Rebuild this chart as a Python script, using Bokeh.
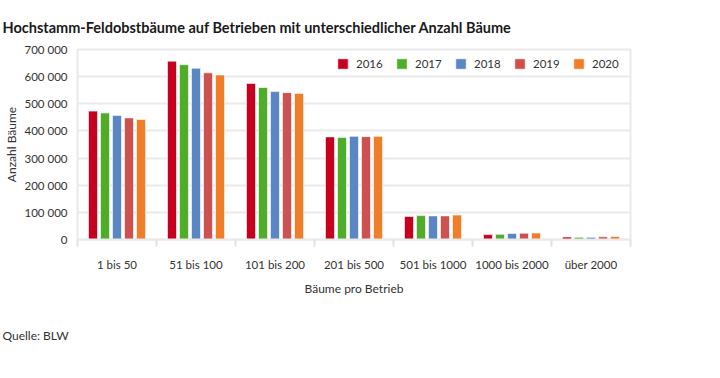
from bokeh.plotting import figure
from bokeh.models import (Range1d, FixedTicker, ColumnDataSource,
                          Legend, LegendItem, Title)
from bokeh.transform import dodge
from bokeh.embed import file_html
from bokeh.resources import INLINE

title_text = "Hochstamm-Feldobstbäume auf Betrieben mit unterschiedlicher Anzahl Bäume"
source_text = "Quelle: BLW"
x_title = "Bäume pro Betrieb"
y_title = "Anzahl Bäume"

categories = ["1 bis 50", "51 bis 100", "101 bis 200", "201 bis 500",
              "501 bis 1000", "1000 bis 2000", "über 2000"]
years = ["2016", "2017", "2018", "2019", "2020"]
v2016 = [473000, 657000, 575000, 378000, 85000, 18000, 9000]
v2017 = [466000, 644000, 560000, 376000, 88000, 19000, 8000]
v2018 = [457000, 631000, 545000, 380000, 87000, 22000, 8000]
v2019 = [448000, 614000, 541000, 379000, 87000, 23000, 10000]
v2020 = [442000, 606000, 538000, 380000, 90000, 24000, 11000]
colors = ["#c6001f", "#4fad29", "#5b86c5", "#cd5151", "#f07d27"]
y_ticks = [0, 100000, 200000, 300000, 400000, 500000, 600000, 700000]
y_tick_labels = ["0", "100 000", "200 000", "300 000", "400 000", "500 000", "600 000", "700 000"]

FONT = "Lato"
TXT = "#333333"
GRID = "#eaeaea"
W, H = 704, 370
ML, MR, MT, MB = 77, 74, 49, 126

n = len(categories)
centers = [i + 0.5 for i in range(n)]   # category slot centres on the axis scale
data = dict(cat=categories, pos=centers)
series = [v2016, v2017, v2018, v2019, v2020]
for y, vals in zip(years, series):
    data[y] = vals
src = ColumnDataSource(data)

p = figure(width=W, height=H, x_range=Range1d(0, n), y_range=Range1d(0, 700000),
           toolbar_location=None, output_backend="svg",
           min_border_left=ML, min_border_right=MR, min_border_top=MT, min_border_bottom=MB)
p.border_fill_color = "white"
p.background_fill_color = "white"
p.outline_line_color = GRID
p.outline_line_width = 2
p.xgrid.visible = False
p.ygrid.ticker = FixedTicker(ticks=y_ticks)
p.ygrid.grid_line_color = GRID
p.ygrid.grid_line_width = 2

p.title.text = title_text
p.title.align = "left"
p.title.offset = -ML + 2
p.title.standoff = 28
p.title.text_font = FONT
p.title.text_font_style = "bold"
p.title.text_font_size = "14.5px"
p.title.text_color = "#1a1a1a"

ya = p.yaxis[0]
ya.ticker = FixedTicker(ticks=y_ticks)
ya.major_label_overrides = {t: l for t, l in zip(y_ticks, y_tick_labels)}
ya.axis_line_color = None
ya.major_tick_line_color = None
ya.minor_tick_line_color = None
ya.major_label_standoff = 4
ya.major_label_text_font = FONT
ya.major_label_text_font_size = "11.5px"
ya.major_label_text_color = TXT
ya.axis_label = y_title
ya.axis_label_standoff = 3
ya.axis_label_text_font = FONT
ya.axis_label_text_font_size = "12px"
ya.axis_label_text_font_style = "normal"
ya.axis_label_text_color = TXT

xa = p.xaxis[0]
xa.ticker = FixedTicker(ticks=centers, minor_ticks=list(range(n + 1)))
xa.major_label_overrides = {c: lab for c, lab in zip(centers, categories)}
xa.axis_line_color = GRID
xa.axis_line_width = 2
xa.major_tick_line_color = None
xa.major_tick_out = 0
xa.major_tick_in = 0
xa.minor_tick_line_color = "#e2e2e2"
xa.minor_tick_line_width = 2
xa.minor_tick_out = 7
xa.minor_tick_in = 0
xa.major_label_standoff = 11
xa.major_label_text_font = FONT
xa.major_label_text_font_size = "11.5px"
xa.major_label_text_color = TXT
xa.axis_label = x_title
xa.axis_label_standoff = 7
xa.axis_label_text_font = FONT
xa.axis_label_text_font_size = "12px"
xa.axis_label_text_font_style = "normal"
xa.axis_label_text_color = TXT

pitch = 0.152
items = []
for k, (y, c) in enumerate(zip(years, colors)):
    r = p.vbar(x=dodge("pos", (k - 2) * pitch), top=y, width=0.114,
               source=src, fill_color=c, line_color="white", line_alpha=0.6, line_width=1)
    items.append(LegendItem(label=y, renderers=[r]))

legend = Legend(items=items, orientation="horizontal", location="top_right",
                glyph_width=13, glyph_height=13, label_height=13, label_width=30,
                label_standoff=7, spacing=9, padding=0, margin=8,
                border_line_color=None, background_fill_alpha=0,
                label_text_font=FONT, label_text_font_size="11.5px", label_text_color=TXT)
p.add_layout(legend)

p.add_layout(Title(text=source_text, align="left", offset=-ML + 2, standoff=55,
                   text_font=FONT, text_font_size="12px", text_font_style="normal",
                   text_color=TXT), "below")

open("out.html", "w").write(file_html(p, INLINE))
